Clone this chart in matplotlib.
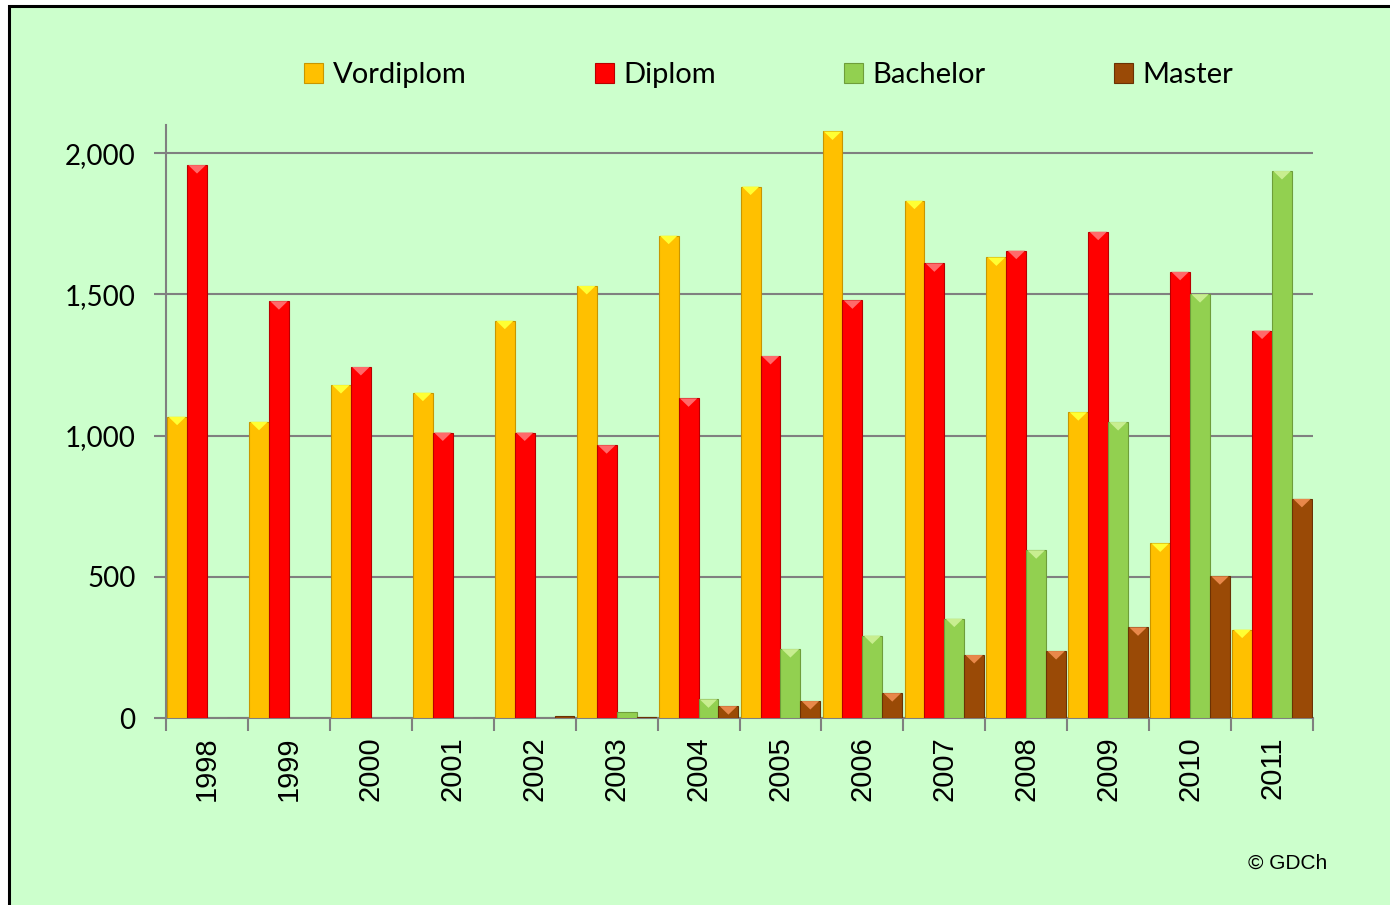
import matplotlib
matplotlib.use("Agg")
import matplotlib.pyplot as plt
from matplotlib.patches import Rectangle, Polygon
import numpy as np

years = ["1998", "1999", "2000", "2001", "2002", "2003", "2004",
         "2005", "2006", "2007", "2008", "2009", "2010", "2011"]
vordiplom = [1067, 1049, 1179, 1152, 1407, 1530, 1708, 1882, 2077, 1832, 1631, 1083, 618, 313]
diplom = [1958, 1476, 1243, 1011, 1011, 966, 1132, 1282, 1479, 1610, 1655, 1722, 1580, 1372]
bachelor = [0, 0, 0, 0, 0, 21, 66, 244, 292, 352, 594, 1048, 1501, 1937]
master = [0, 0, 0, 0, 6, 3, 42, 60, 88, 223, 237, 321, 502, 776]
series_names = ["Vordiplom", "Diplom", "Bachelor", "Master"]
y_ticks = [0, 500, 1000, 1500, 2000]

colors = ["#FFC000", "#FF0000", "#92D050", "#9A4A06"]
edges = ["#C89600", "#B80000", "#6E9E3A", "#6A3204"]
caps = ["#FFFF33", "#FF6A6A", "#C8EE90", "#E8884A"]

fig = plt.figure(figsize=(13.9, 9.05), dpi=100)
fig.patch.set_facecolor("white")
bg = Rectangle((9 / 1390, -0.02), 1.05, 1 - 6 / 905 + 0.02, transform=fig.transFigure,
               facecolor="#CCFFCC", edgecolor="black", linewidth=2.2, zorder=-10)
fig.patches.append(bg)

ax = fig.add_axes([166 / 1390, 1 - 718 / 905, (1313 - 166) / 1390, (718 - 125) / 905])
ax.set_facecolor("none")

x = np.arange(len(years))
w = 0.243
data = [vordiplom, diplom, bachelor, master]
cap_h = 30
for k, vals in enumerate(data):
    bars = ax.bar(x + (k - 1.5) * w, vals, width=w, color=colors[k], edgecolor=edges[k],
                  linewidth=0.8, zorder=3, label=series_names[k])
    for r in bars:
        bx, bw, bh = r.get_x(), r.get_width(), r.get_height()
        if bh > cap_h * 1.2:
            tri = Polygon([(bx + bw * 0.06, bh), (bx + bw * 0.94, bh), (bx + bw / 2, bh - cap_h)],
                          closed=True, facecolor=caps[k], edgecolor="none", zorder=4)
            ax.add_patch(tri)

ax.set_xlim(-0.5, len(years) - 0.5)
ax.set_ylim(0, 2100)
ax.set_yticks(y_ticks)
ax.set_yticklabels([f"{v:,}" for v in y_ticks], fontfamily="Lato", fontsize=20)
ax.yaxis.grid(True, color="#808080", linewidth=1.5, zorder=1)
ax.set_axisbelow(True)

ax.set_xticks(x)
ax.set_xticklabels(years, rotation=90, fontfamily="Liberation Sans", fontsize=21)
ax.set_xticks(np.arange(len(years) + 1) - 0.5, minor=True)
ax.tick_params(axis="x", which="major", length=0, pad=13)
ax.tick_params(axis="x", which="minor", length=9, width=1.5, color="#808080", direction="out")
ax.tick_params(axis="y", length=9, width=1.5, color="#808080", direction="out", pad=13)

for s in ["top", "right"]:
    ax.spines[s].set_visible(False)
for s in ["left", "bottom"]:
    ax.spines[s].set_color("#808080")
    ax.spines[s].set_linewidth(1.5)

leg = fig.legend(loc="center", bbox_to_anchor=(0.553, 1 - 75 / 905), ncol=4, frameon=False,
                 prop={"family": "Lato", "size": 21}, handlelength=0.66, handleheight=0.66,
                 handletextpad=0.32, columnspacing=4.4)

fig.text(1327 / 1390, 1 - 863 / 905, "© GDCh", ha="right", va="center",
         fontfamily="Liberation Sans", fontsize=15)

fig.savefig("out.png", dpi=100, facecolor=fig.get_facecolor())
